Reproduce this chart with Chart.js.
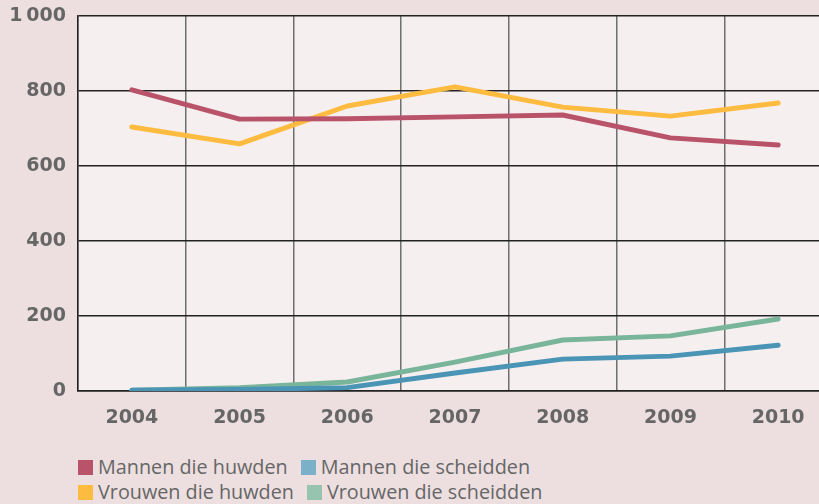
<!DOCTYPE html>
<html>
<head>
<meta charset="utf-8">
<script src="https://cdn.jsdelivr.net/npm/chart.js@4"></script>
<style>
  html, body { margin: 0; padding: 0; background: #eddfe0; overflow: hidden; }
  #wrap { position: relative; width: 832px; height: 430px; }
  .legend { position: absolute; left: 78px; top: 454px; font-family: "Open Sans", sans-serif; font-size: 19.8px; color: #666; line-height: 25px; white-space: nowrap; }
  .legend span.sw { display: inline-block; width: 15px; height: 15px; margin-right: 5px; vertical-align: -1px; }
  .legend .item { margin-right: 13px; }
</style>
</head>
<body>
<div id="wrap"><canvas id="chart" width="832" height="430"></canvas></div>
<div class="legend" id="legend"></div>
<script>
const ctx = document.getElementById("chart");

// data
const years = ["2004","2005","2006","2007","2008","2009","2010"];
const mannenHuwden     = [803, 725, 726, 731, 736, 675, 656];
const vrouwenHuwden    = [704, 659, 760, 811, 757, 733, 768];
const mannenScheidden  = [2, 4, 9, 48, 85, 93, 122];
const vrouwenScheidden = [2, 9, 24, 77, 136, 147, 192];
const yTicks = [0, 200, 400, 600, 800, 1000];

const series = [
  { label: "Mannen die huwden",     data: mannenHuwden,     color: "#b9536a", legend: "#b9536a" },
  { label: "Mannen die scheidden",  data: mannenScheidden,  color: "#4a94b5", legend: "#7ab0c8" },
  { label: "Vrouwen die huwden",    data: vrouwenHuwden,    color: "#fdbb3f", legend: "#fdbb3f" },
  { label: "Vrouwen die scheidden", data: vrouwenScheidden, color: "#79b59a", legend: "#96c4ae" }
];

/* plot background */
const plotBg = {
  id: "plotBg",
  beforeDraw(chart){
    const a = chart.chartArea, c = chart.ctx;
    c.save();
    c.fillStyle = "#f6eff0";
    c.fillRect(a.left, a.top, a.right - a.left, a.bottom - a.top);
    c.restore();
  }
};

// green first, then blue, yellow, red on top
const drawOrder = [0, 1, 2, 3];

const tickFont = { family: "DejaVu Sans", weight: "bold", size: 19 };

new Chart(ctx, {
  type: "line",
  data: {
    labels: years,
    datasets: series.map((s, i) => ({
      label: s.label,
      data: s.data,
      borderColor: s.color,
      backgroundColor: s.color,
      borderWidth: 5,
      borderCapStyle: "round",
      borderJoinStyle: "round",
      pointRadius: 0,
      tension: 0,
      order: drawOrder[i]
    }))
  },
  options: {
    responsive: false,
    animation: false,
    layout: { padding: { top: 16, right: 0, bottom: 0, left: 0 } },
    plugins: { legend: { display: false }, tooltip: { enabled: false } },
    scales: {
      x: {
        offset: true,
        grid: { offset: true, color: "#6f6f6f", lineWidth: 1.5, drawTicks: false },
        border: { color: "#222", width: 1.5 },
        ticks: { color: "#666", padding: 16, font: tickFont },
        afterFit(scale){ scale.height = 39; scale.paddingLeft = 0; scale.paddingRight = 0; }
      },
      y: {
        min: 0, max: 1000,
        afterBuildTicks(scale){ scale.ticks = yTicks.map(v => ({ value: v })); },
        grid: { color: "#222", lineWidth: 1.5, drawTicks: false },
        border: { color: "#222", width: 1.5 },
        ticks: {
          color: "#666", padding: 12,
          font: tickFont,
          callback: v => v >= 1000 ? "1\u2009000" : String(v)
        },
        afterFit(scale){ scale.width = 78; scale.paddingTop = 0; scale.paddingBottom = 0; }
      }
    }
  },
  plugins: [plotBg]
});

/* legend */
const leg = document.getElementById("legend");
const rows = [[0, 1], [2, 3]];
rows.forEach(r => {
  const div = document.createElement("div");
  r.forEach(i => {
    const it = document.createElement("span");
    it.className = "item";
    it.innerHTML = '<span class="sw" style="background:' + series[i].legend + '"></span>' + series[i].label;
    div.appendChild(it);
  });
  leg.appendChild(div);
});
</script>
</body>
</html>
